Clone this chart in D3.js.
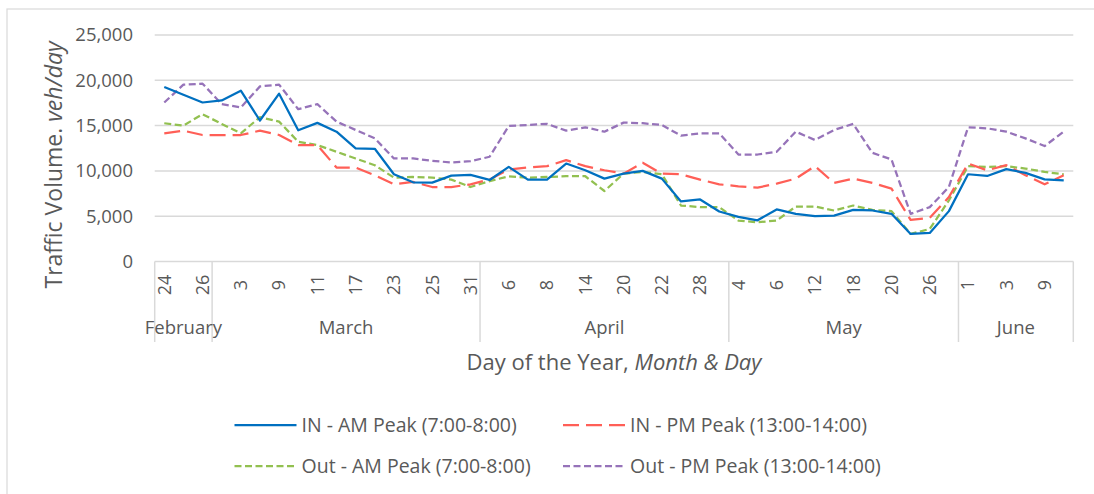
<!DOCTYPE html>
<html>
<head>
<meta charset="utf-8">
<script src="https://cdn.jsdelivr.net/npm/d3@7"></script>
<style>
  body { margin: 0; background: #fff; }
  svg { font-family: "Open Sans", sans-serif; }
</style>
</head>
<body>
<div id="chart"></div>
<script>
// categories: month names and the days within each month (Mon/Tue/Wed)
const months = ["February", "March", "April", "May", "June"];
const monthDays = [
  [24, 25, 26],
  [2, 3, 4, 9, 10, 11, 16, 17, 18, 23, 24, 25, 30, 31],
  [1, 6, 7, 8, 13, 14, 15, 20, 21, 22, 27, 28, 29],
  [4, 5, 6, 11, 12, 13, 18, 19, 20, 25, 26, 27],
  [1, 2, 3, 8, 9, 10]
];
const yTicks = [0, 5000, 10000, 15000, 20000, 25000];

const inAM = [19260, 18400, 17550, 17780, 18850, 15560, 18520, 14480, 15300, 14330, 12480, 12440, 9630, 8740, 8700, 9480, 9560, 9000,
  10440, 9040, 9040, 10810, 10070, 9150, 9700, 10000, 9150, 6630, 6850, 5520,
  4920, 4550, 5750, 5260, 5000, 5070, 5700, 5630, 5260, 3040, 3150, 5560,
  9630, 9440, 10190, 9780, 9070, 8960];
const inPM = [14150, 14440, 13960, 13960, 13960, 14440, 13960, 12850, 12850, 10370, 10370, 9520, 8520, 8780, 8220, 8220, 8520, 9050,
  10150, 10370, 10520, 11190, 10520, 10070, 9700, 10890, 9700, 9630, 9040, 8520,
  8300, 8150, 8600, 9150, 10520, 8670, 9150, 8670, 8040, 4590, 4810, 7110,
  10810, 10070, 10630, 9520, 8520, 9520];
const outAM = [15260, 15000, 16260, 15190, 14150, 15930, 15440, 13220, 12850, 12110, 11370, 10630, 9260, 9330, 9260, 9040, 8220, 8870,
  9410, 9260, 9330, 9410, 9410, 7780, 9700, 9890, 9630, 6180, 6000, 6000,
  4520, 4330, 4520, 6070, 6070, 5630, 6180, 5700, 5560, 3040, 3590, 6740,
  10520, 10440, 10520, 10260, 9890, 9630];
const outPM = [17550, 19520, 19630, 17370, 17000, 19330, 19520, 16810, 17370, 15440, 14520, 13590, 11370, 11370, 11110, 10930, 11070, 11560,
  14960, 15070, 15190, 14440, 14810, 14330, 15330, 15260, 15070, 13890, 14150, 14150,
  11810, 11810, 12110, 14330, 13410, 14520, 15190, 12000, 11260, 5260, 6000, 8220,
  14810, 14700, 14330, 13590, 12740, 14330];

const seriesNames = ["IN - AM Peak (7:00-8:00)", "IN - PM Peak (13:00-14:00)",
                     "Out - AM Peak (7:00-8:00)", "Out - PM Peak (13:00-14:00)"];

const WIDTH = 1094, HEIGHT = 494;
const LEFT = 154.7, RIGHT = 1073.3, TOP = 35, BOTTOM = 261.5;
const GRID = "#d9d9d9";
const TEXT = "#595959";

// flat list of categories
const cats = [];
monthDays.forEach((days, m) => days.forEach(d => cats.push({month: m, day: d})));
const idx = cats.map((c, i) => i);

const svg = d3.select("#chart").append("svg")
  .attr("width", WIDTH)
  .attr("height", HEIGHT);

// chart border
svg.append("rect")
  .attr("x", 7).attr("y", 9)
  .attr("width", WIDTH + 10).attr("height", HEIGHT + 10)
  .attr("fill", "none")
  .attr("stroke", GRID)
  .attr("stroke-width", 1.2);

const x = d3.scaleBand().domain(idx).range([LEFT, RIGHT]).padding(0);
const y = d3.scaleLinear().domain([0, 25000]).range([BOTTOM, TOP]);

// gridlines
svg.append("g").selectAll("line")
  .data(yTicks.filter(t => t > 0))
  .enter().append("line")
  .attr("x1", LEFT).attr("x2", RIGHT)
  .attr("y1", d => y(d)).attr("y2", d => y(d))
  .attr("stroke", GRID).attr("stroke-width", 1.5);

// y axis labels
const yAxis = d3.axisLeft(y).tickValues(yTicks).tickSize(0).tickPadding(0)
  .tickFormat(d3.format(","));
svg.append("g")
  .attr("transform", "translate(133,0)")
  .call(yAxis)
  .call(g => g.select(".domain").remove())
  .selectAll("text")
  .attr("fill", TEXT)
  .style("font-size", "18.5px")
  .style("font-family", "'Open Sans', sans-serif");

// category axis (day level, every other label)
const xAxis = d3.axisBottom(x).tickValues(idx.filter(i => i % 2 === 0))
  .tickSize(0).tickFormat(i => cats[i].day);
const xg = svg.append("g")
  .attr("transform", "translate(0," + BOTTOM + ")")
  .call(xAxis);
xg.select(".domain").attr("stroke", GRID).attr("stroke-width", 1.5)
  .attr("d", "M" + LEFT + ",0H" + RIGHT);
xg.selectAll("text")
  .attr("fill", TEXT)
  .style("font-size", "18px")
  .style("font-family", "'Open Sans', sans-serif")
  .attr("text-anchor", "middle")
  .attr("y", 0).attr("dy", "0.35em")
  .attr("transform", "translate(0,23.5) rotate(-90)");

// month level: separators and labels
const monthStart = months.map((m, k) => cats.findIndex(c => c.month === k));
const bounds = monthStart.map(i => x(i)).concat([RIGHT]);
svg.append("g").selectAll("line")
  .data(bounds)
  .enter().append("line")
  .attr("x1", d => d).attr("x2", d => d)
  .attr("y1", BOTTOM).attr("y2", 342)
  .attr("stroke", GRID).attr("stroke-width", 1.5);

svg.append("g").selectAll("text")
  .data(months)
  .enter().append("text")
  .attr("x", (d, k) => (bounds[k] + bounds[k + 1]) / 2)
  .attr("y", 334)
  .attr("text-anchor", "middle")
  .attr("fill", TEXT)
  .style("font-size", "18.5px")
  .text(d => d);

// axis titles
const xTitle = svg.append("text")
  .attr("x", 614).attr("y", 370)
  .attr("text-anchor", "middle")
  .attr("fill", TEXT)
  .style("font-size", "22px");
xTitle.append("tspan").text("Day of the Year, ");
xTitle.append("tspan").style("font-style", "italic").text("Month & Day");

const yTitle = svg.append("text")
  .attr("transform", "translate(62,165) rotate(-90)")
  .attr("text-anchor", "middle")
  .attr("fill", TEXT)
  .style("font-size", "23px");
yTitle.append("tspan").text("Traffic Volume. ");
yTitle.append("tspan").style("font-style", "italic").text("veh/day");

// series lines
const series = [
  {name: seriesNames[0], values: inAM,  color: "#0070C0", dash: null},
  {name: seriesNames[1], values: inPM,  color: "#FF5F57", dash: "16,7"},
  {name: seriesNames[2], values: outAM, color: "#92C050", dash: "7,3.5"},
  {name: seriesNames[3], values: outPM, color: "#9673B9", dash: "7,3.5"}
];
const line = d3.line()
  .x((d, i) => x(i) + x.bandwidth() / 2)
  .y(d => y(d));

// draw order: out PM, out AM, in PM, in AM on top
[3, 2, 1, 0].forEach(k => {
  const s = series[k];
  svg.append("path")
    .datum(s.values)
    .attr("d", line)
    .attr("fill", "none")
    .attr("stroke", s.color)
    .attr("stroke-width", 2.25)
    .attr("stroke-linejoin", "round")
    .attr("stroke-dasharray", s.dash);
});

// legend
const legendPos = [[234.5, 425], [563, 425], [234.5, 466], [563, 466]];
const legend = svg.append("g");
series.forEach((s, k) => {
  const [lx, ly] = legendPos[k];
  legend.append("line")
    .attr("x1", lx).attr("x2", lx + 62)
    .attr("y1", ly).attr("y2", ly)
    .attr("stroke", s.color)
    .attr("stroke-width", 2.25)
    .attr("stroke-dasharray", s.dash);
  legend.append("text")
    .attr("x", lx + 67).attr("y", ly)
    .attr("dy", "0.35em")
    .attr("fill", TEXT)
    .style("font-size", "19.5px")
    .text(s.name);
});
</script>
</body>
</html>
